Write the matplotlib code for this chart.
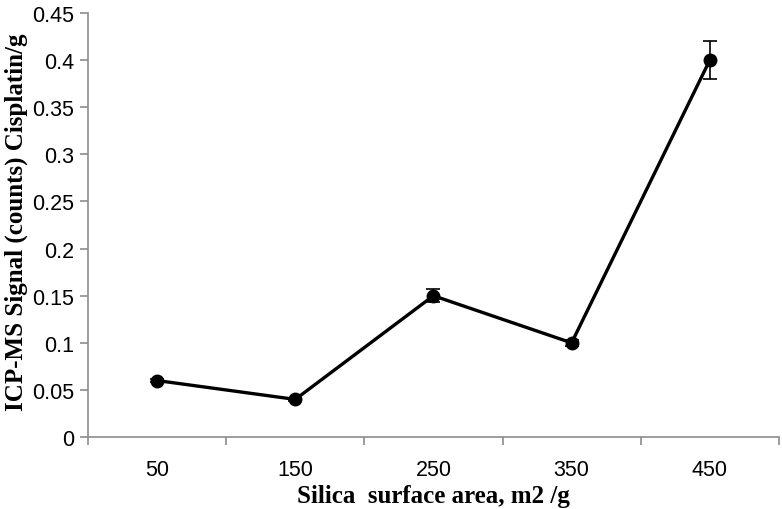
import matplotlib
matplotlib.use("Agg")
import matplotlib.pyplot as plt
import numpy as np

# data
surface_area = ['50', '150', '250', '350', '450']
signal = [0.06, 0.04, 0.15, 0.10, 0.40]
signal_err = [0.002, 0.002, 0.007, 0.003, 0.02]
y_ticks = [0, 0.05, 0.1, 0.15, 0.2, 0.25, 0.3, 0.35, 0.4, 0.45]
y_tick_labels = ['0', '0.05', '0.1', '0.15', '0.2', '0.25', '0.3', '0.35', '0.4', '0.45']

AXIS_GREY = '#8c8c8c'

fig = plt.figure(figsize=(7.82, 5.10), dpi=100)
ax = fig.add_axes([0.1125, 0.141, 0.8835, 0.8315])

x = np.arange(len(surface_area))
ax.errorbar(x, signal, yerr=signal_err, color='black', lw=2.4, marker='o', markersize=9,
            ecolor='black', elinewidth=1.2, capsize=5, capthick=1.2, zorder=3)

ax.set_xlim(-0.5, len(surface_area) - 0.5)
ax.set_ylim(0, 0.45)
ax.set_yticks(y_ticks)
ax.set_yticklabels(y_tick_labels, fontfamily='Liberation Sans', fontsize=15.5)

# category labels sit between the tick marks, Excel style
ax.set_xticks(np.arange(len(surface_area) + 1) - 0.5)
ax.set_xticklabels([])
ax.set_xticks(x, minor=True)
ax.set_xticklabels(surface_area, minor=True, fontfamily='Liberation Sans', fontsize=15.5)
ax.tick_params(axis='x', which='minor', length=0, pad=16)
ax.tick_params(axis='x', which='major', length=6, width=1.2, color=AXIS_GREY)
ax.tick_params(axis='y', length=6, width=1.2, color=AXIS_GREY, pad=4)

for side in ['top', 'right']:
    ax.spines[side].set_visible(False)
for side in ['left', 'bottom']:
    ax.spines[side].set_color(AXIS_GREY)
    ax.spines[side].set_linewidth(1.2)

ax.set_xlabel('Silica  surface area, m2 /g', fontfamily='Liberation Serif', fontweight='bold',
              fontsize=18, labelpad=3)
fig.text(0.021, 0.565, 'ICP-MS Signal (counts) Cisplatin/g', fontfamily='Liberation Serif',
         fontweight='bold', fontsize=18, rotation=90, ha='center', va='center')

plt.savefig('out.png', dpi=100)
